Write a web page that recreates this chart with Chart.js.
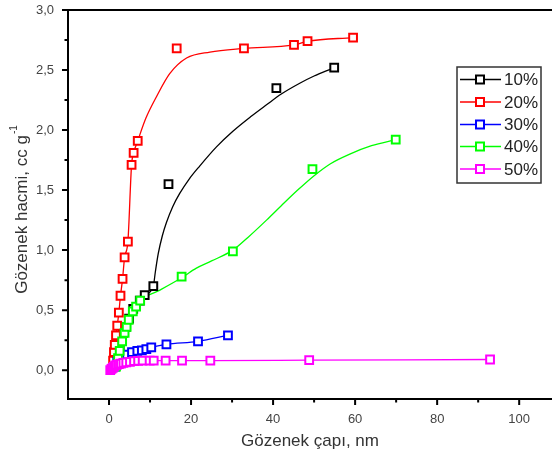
<!DOCTYPE html>
<html><head><meta charset="utf-8">
<script src="https://cdn.jsdelivr.net/npm/chart.js@4/dist/chart.umd.min.js"></script>
<style>html,body{margin:0;padding:0;background:#fff}#wrap{width:552px;height:462px}</style>
</head><body><div id="wrap"><canvas id="c" width="552" height="462"></canvas></div>
<script>
// ---- data ----
const seriesLabels = ['10%', '20%', '30%', '40%', '50%'];
const seriesColors = ['#000000', '#ff0000', '#0000ff', '#00ff00', '#ff00ff'];
const xTicks = [0, 20, 40, 60, 80, 100];
const yTicks = [0, 0.5, 1, 1.5, 2, 2.5, 3];
const xMinorTicks = [10, 30, 50, 70, 90];
const yMinorTicks = [0.25, 0.75, 1.25, 1.75, 2.25, 2.75];

// measured points (squares)
const p10x = [1.5, 2.0, 2.6, 3.4, 4.1, 4.9, 5.9, 7.5, 8.7, 10.8, 14.5, 40.8, 54.9];
const p10y = [0.05, 0.12, 0.20, 0.31, 0.36, 0.43, 0.51, 0.58, 0.625, 0.70, 1.55, 2.35, 2.52];
const p20x = [1.0, 1.2, 1.4, 1.7, 2.0, 2.4, 2.8, 3.3, 3.8, 4.6, 5.5, 6.0, 7.0, 16.5, 32.9, 45.1, 48.4, 59.5];
const p20y = [0.08, 0.15, 0.21, 0.29, 0.37, 0.48, 0.62, 0.76, 0.94, 1.07, 1.71, 1.81, 1.91, 2.68, 2.68, 2.71, 2.74, 2.77];
const p30x = [1.5, 2.0, 2.6, 3.4, 4.4, 5.6, 6.9, 8.0, 9.1, 10.3, 14.0, 21.7, 29.0];
const p30y = [0.03, 0.07, 0.10, 0.12, 0.13, 0.15, 0.16, 0.165, 0.175, 0.19, 0.215, 0.24, 0.29];
const p40x = [1.7, 2.2, 2.6, 3.2, 3.8, 4.3, 4.8, 5.8, 6.6, 7.6, 17.7, 30.2, 49.6, 69.9];
const p40y = [0.03, 0.10, 0.16, 0.24, 0.31, 0.36, 0.42, 0.49, 0.53, 0.58, 0.78, 0.99, 1.675, 1.92];
const p50x = [0.3, 0.6, 0.9, 1.2, 1.5, 1.9, 2.4, 2.9, 3.5, 4.2, 5.1, 6.1, 7.1, 8.2, 9.9, 10.9, 13.8, 17.8, 24.7, 48.8, 92.9];
const p50y = [0.0, 0.01, 0.02, 0.03, 0.04, 0.045, 0.05, 0.055, 0.06, 0.065, 0.07, 0.075, 0.078, 0.08, 0.08, 0.08, 0.08, 0.08, 0.08, 0.083, 0.089];

// fitted / connecting curves
const c10x = [1.3, 1.5, 2.0, 2.6, 3.4, 4.1, 4.9, 5.9, 7.5, 8.7, 10.8, 11.3, 12.0, 13.0, 14.0, 15.5, 17.2, 19.5, 22.1, 26.2, 30.2, 34.5, 38.4, 42.0, 46.5, 50.0, 54.2];
const c10y = [0.0, 0.05, 0.12, 0.20, 0.31, 0.36, 0.43, 0.51, 0.58, 0.625, 0.70, 0.82, 0.97, 1.12, 1.23, 1.36, 1.47, 1.59, 1.70, 1.86, 1.99, 2.11, 2.21, 2.30, 2.39, 2.45, 2.51];
const c20x = [0.9, 1.0, 1.2, 1.4, 1.7, 2.0, 2.4, 2.8, 3.3, 3.8, 4.6, 5.5, 6.0, 7.0, 9.0, 11.6, 14.8, 18.9, 24.6, 32.9, 45.1, 48.4, 59.5];
const c20y = [0.03, 0.08, 0.15, 0.21, 0.29, 0.37, 0.48, 0.62, 0.76, 0.94, 1.07, 1.71, 1.81, 1.91, 2.10, 2.28, 2.47, 2.60, 2.65, 2.68, 2.71, 2.74, 2.77];
const c30x = [1.3, 1.5, 2.0, 2.6, 3.4, 4.4, 5.6, 6.9, 8.0, 9.1, 10.3, 14.0, 21.7, 29.0];
const c30y = [0.0, 0.03, 0.07, 0.10, 0.12, 0.13, 0.15, 0.16, 0.165, 0.175, 0.19, 0.215, 0.24, 0.29];
const c40x = [1.5, 1.7, 2.2, 2.6, 3.2, 3.8, 4.3, 4.8, 5.8, 6.6, 7.6, 12.0, 17.7, 21.3, 25.0, 30.2, 34.0, 38.4, 42.0, 46.0, 50.0, 54.0, 58.7, 64.0, 69.9];
const c40y = [0.0, 0.03, 0.10, 0.16, 0.24, 0.31, 0.36, 0.42, 0.49, 0.53, 0.58, 0.66, 0.77, 0.85, 0.91, 1.00, 1.11, 1.25, 1.37, 1.50, 1.62, 1.72, 1.80, 1.87, 1.92];
const c50x = p50x;
const c50y = p50y;

// ---- build ----
const pointsX = [p10x, p20x, p30x, p40x, p50x];
const pointsY = [p10y, p20y, p30y, p40y, p50y];
const curveX = [c10x, c20x, c30x, c40x, c50x];
const curveY = [c10y, c20y, c30y, c40y, c50y];
const zip = (xs, ys) => xs.map((x, i) => ({x, y: ys[i]}));

const datasets = [];
seriesLabels.forEach((lab, i) => {
  datasets.push({
    label: lab + ' fit',
    data: zip(curveX[i], curveY[i]),
    showLine: true,
    borderColor: seriesColors[i],
    borderWidth: 1.3,
    pointRadius: 0,
    cubicInterpolationMode: 'monotone',
    order: 20 - i
  });
});
seriesLabels.forEach((lab, i) => {
  datasets.push({
    label: lab,
    data: zip(pointsX[i], pointsY[i]),
    showLine: false,
    pointStyle: 'rect',
    pointRadius: 5.5,
    pointBorderWidth: 2,
    borderColor: seriesColors[i],
    pointBackgroundColor: '#ffffff',
    backgroundColor: '#ffffff',
    order: 5 - i
  });
});

const fmt = v => v.toFixed(1).replace('.', ',');

const decor = {
  id: 'decor',
  afterDraw(chart) {
    const ctx = chart.ctx;
    const xs = chart.scales.x, ys = chart.scales.y;
    const a = chart.chartArea;
    ctx.save();
    ctx.strokeStyle = '#000';
    ctx.lineWidth = 2;
    ctx.beginPath();
    ctx.moveTo(a.left, a.top); ctx.lineTo(a.left, a.bottom + 1);
    ctx.moveTo(a.left - 1, a.bottom); ctx.lineTo(a.right, a.bottom);
    ctx.moveTo(a.left, a.top); ctx.lineTo(a.right, a.top);
    ctx.stroke();
    ctx.lineWidth = 2;
    ctx.beginPath();
    xTicks.forEach(v => { const p = xs.getPixelForValue(v); ctx.moveTo(p, a.bottom); ctx.lineTo(p, a.bottom + 6); });
    xMinorTicks.forEach(v => { const p = xs.getPixelForValue(v); ctx.moveTo(p, a.bottom); ctx.lineTo(p, a.bottom + 3.5); });
    yTicks.forEach(v => { const p = ys.getPixelForValue(v); ctx.moveTo(a.left, p); ctx.lineTo(a.left - 6, p); });
    yMinorTicks.forEach(v => { const p = ys.getPixelForValue(v); ctx.moveTo(a.left, p); ctx.lineTo(a.left - 3.5, p); });
    ctx.stroke();

    // axis titles
    ctx.fillStyle = '#333';
    ctx.font = '17px "Liberation Sans", Arial, sans-serif';
    ctx.textAlign = 'center';
    ctx.textBaseline = 'middle';
    ctx.fillText('Gözenek çapı, nm', (a.left + a.right) / 2, 441);

    ctx.save();
    ctx.translate(22, 210);
    ctx.rotate(-Math.PI / 2);
    const main = 'Gözenek hacmi, cc g';
    const sup = '-1';
    const w1 = ctx.measureText(main).width;
    ctx.font = '10px "Liberation Sans", Arial, sans-serif';
    const w2 = ctx.measureText(sup).width;
    const start = -(w1 + w2) / 2;
    ctx.font = '17px "Liberation Sans", Arial, sans-serif';
    ctx.textAlign = 'left';
    ctx.fillText(main, start, 0);
    ctx.font = '10px "Liberation Sans", Arial, sans-serif';
    ctx.fillText(sup, start + w1 + 1, -8);
    ctx.restore();

    // legend
    const bx = 457, by = 67, bw = 84, bh = 116;
    ctx.fillStyle = '#fff';
    ctx.fillRect(bx, by, bw, bh);
    ctx.strokeStyle = '#333';
    ctx.lineWidth = 1.5;
    ctx.strokeRect(bx, by, bw, bh);
    const rowY = [79.5, 102, 124.5, 146.5, 169];
    seriesLabels.forEach((lab, i) => {
      const y = rowY[i];
      ctx.strokeStyle = seriesColors[i];
      ctx.lineWidth = 1.3;
      ctx.beginPath(); ctx.moveTo(460, y); ctx.lineTo(501, y); ctx.stroke();
      ctx.fillStyle = '#fff';
      ctx.fillRect(476, y - 4, 8, 8);
      ctx.lineWidth = 2;
      ctx.strokeRect(476, y - 4, 8, 8);
      ctx.fillStyle = '#222';
      ctx.font = '17px "Liberation Sans", Arial, sans-serif';
      ctx.textAlign = 'left';
      ctx.textBaseline = 'middle';
      ctx.fillText(lab, 504, y + 1);
    });
    ctx.restore();
  }
};

new Chart(document.getElementById('c'), {
  type: 'scatter',
  data: { datasets },
  options: {
    responsive: false,
    animation: false,
    layout: { autoPadding: false, padding: { top: 10, right: 0, left: 0, bottom: 0 } },
    plugins: { legend: { display: false }, tooltip: { enabled: false } },
    scales: {
      x: {
        type: 'linear', min: -10, max: 108,
        afterBuildTicks: s => { s.ticks = xTicks.map(v => ({value: v})); },
        afterFit: s => { s.height = 63; s.paddingLeft = 0; s.paddingRight = 0; },
        grid: { display: false, tickLength: 6 },
        border: { display: false },
        ticks: { padding: 7, color: '#444', font: { family: '"Liberation Sans", Arial, sans-serif', size: 13 }, maxRotation: 0 }
      },
      y: {
        type: 'linear', min: -0.24, max: 3,
        afterBuildTicks: s => { s.ticks = yTicks.map(v => ({value: v})); },
        afterFit: s => { s.width = 68; s.paddingTop = 0; s.paddingBottom = 0; },
        grid: { display: false, tickLength: 6 },
        border: { display: false },
        ticks: { padding: 8, color: '#444', callback: v => fmt(v), font: { family: '"Liberation Sans", Arial, sans-serif', size: 13 } }
      }
    }
  },
  plugins: [decor]
});
</script>
</body></html>
